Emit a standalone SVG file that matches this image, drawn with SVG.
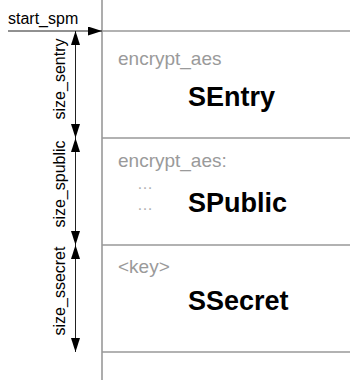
<svg xmlns="http://www.w3.org/2000/svg" width="350" height="380" viewBox="0 0 350 380">
  <style>
    .rule { stroke: #999999; stroke-width: 1.6; fill: none; }
    .dim { stroke: #222222; stroke-width: 1; fill: none; }
    .lbl { font-family: "Liberation Sans", Arial, sans-serif; font-size: 16px; fill: #000000; }
    .tag { font-family: "Liberation Sans", Arial, sans-serif; font-size: 19px; fill: #9a9a9a; }
    .dots { font-family: "Liberation Sans", Arial, sans-serif; font-size: 16px; fill: #b0b0b0; }
    .name { font-family: "Liberation Sans", Arial, sans-serif; font-size: 27px; font-weight: bold; fill: #000000; }
  </style>
  <defs>
    <marker id="tip" viewBox="0 0 14 9" refX="14" refY="4.5" markerWidth="14" markerHeight="9" markerUnits="userSpaceOnUse" orient="auto-start-reverse">
      <path d="M0,0 L14,4.5 L0,9 Z" fill="#000000"/>
    </marker>
  </defs>

  <rect width="350" height="380" fill="#ffffff"/>

  <!-- memory map frame -->
  <g id="frame">
    <line class="rule" x1="102" y1="0" x2="102" y2="380"/>
    <line class="rule" x1="102" y1="31" x2="350" y2="31"/>
    <line class="rule" x1="102" y1="138" x2="350" y2="138"/>
    <line class="rule" x1="102" y1="245" x2="350" y2="245"/>
    <line class="rule" x1="102" y1="352" x2="350" y2="352"/>
  </g>

  <g id="sentry">
    <text class="tag" x="118" y="65">encrypt_aes</text>
    <text class="name" x="188" y="106">SEntry</text>
  </g>

  <g id="spublic">
    <text class="tag" x="118" y="167">encrypt_aes:</text>
    <text class="dots" x="137" y="189">…</text>
    <text class="dots" x="137" y="210">…</text>
    <text class="name" x="188" y="212">SPublic</text>
  </g>

  <g id="ssecret">
    <text class="tag" x="118" y="273">&lt;key&gt;</text>
    <text class="name" x="188" y="310">SSecret</text>
  </g>

  <!-- pointer and size dimensions -->
  <g id="connectors">
    <line class="dim" x1="8" y1="31" x2="102" y2="31" marker-end="url(#tip)"/>
    <line class="dim" x1="75.5" y1="31" x2="75.5" y2="138" marker-start="url(#tip)" marker-end="url(#tip)"/>
    <line class="dim" x1="75.5" y1="138" x2="75.5" y2="245" marker-start="url(#tip)" marker-end="url(#tip)"/>
    <line class="dim" x1="75.5" y1="245" x2="75.5" y2="352" marker-start="url(#tip)" marker-end="url(#tip)"/>
  </g>

  <g id="labels">
    <text class="lbl" x="8" y="24">start_spm</text>
    <text class="lbl" text-anchor="middle" transform="translate(65,79) rotate(-90)">size_sentry</text>
    <text class="lbl" text-anchor="middle" transform="translate(65,184) rotate(-90)">size_spublic</text>
    <text class="lbl" text-anchor="middle" transform="translate(65,291) rotate(-90)">size_ssecret</text>
  </g>
</svg>
